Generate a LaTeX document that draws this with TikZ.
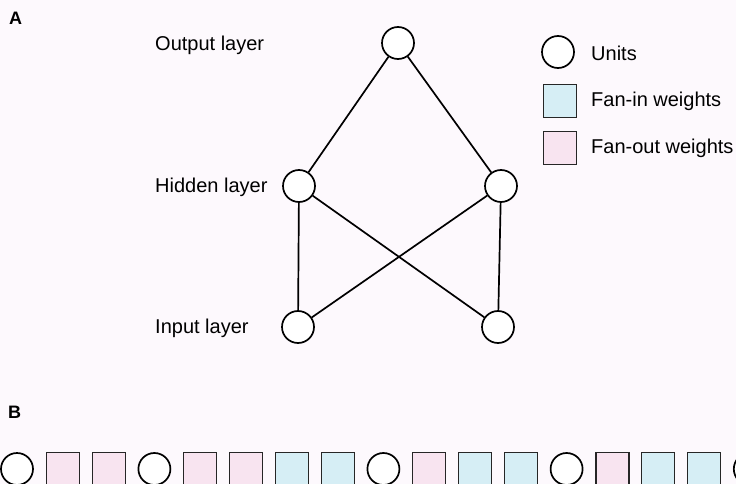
\documentclass[tikz,border=0pt]{standalone}
\usepackage{fontspec}
\setmainfont{Liberation Sans}
\definecolor{paper}{RGB}{253,249,253}
\definecolor{fanin}{RGB}{214,238,245}
\definecolor{fanout}{RGB}{248,228,240}
\tikzset{
  unit/.style={circle,draw=black,line width=1.7pt,fill=white,minimum size=32pt,inner sep=0pt},
  wbox/.style={rectangle,draw=black!85,line width=1.2pt,minimum size=33pt,inner sep=0pt},
  inw/.style={wbox,fill=fanin},
  outw/.style={wbox,fill=fanout},
  conn/.style={line width=1.7pt,draw=black},
  lbl/.style={anchor=west,inner sep=0pt,font=\fontsize{20}{24}\selectfont},
  panel/.style={anchor=west,inner sep=0pt,font=\fontsize{18}{22}\selectfont\bfseries}
}
\begin{document}
\begin{tikzpicture}[x=1pt,y=-1pt]
\fill[paper] (0,0) rectangle (736,484);
\useasboundingbox (0,0) rectangle (736,484);

% panel A: the network
\node[panel] (labA) at (9,18) {A};
\node[unit] (out) at (398,43) {};
\node[unit] (h1) at (299,186) {};
\node[unit] (h2) at (501,186) {};
\node[unit] (i1) at (298,327) {};
\node[unit] (i2) at (498,327) {};
\draw[conn] (out) -- (h1);
\draw[conn] (out) -- (h2);
\draw[conn] (h1) -- (i1);
\draw[conn] (h1) -- (i2);
\draw[conn] (h2) -- (i1);
\draw[conn] (h2) -- (i2);
\node[lbl] (tout) at (155,45) {Output layer};
\node[lbl] (thid) at (155,187) {Hidden layer};
\node[lbl] (tin) at (155,328) {Input layer};

% legend
\node[unit] (lu) at (558,52) {};
\node[inw] (li) at (560,101) {};
\node[outw] (lo) at (560,148) {};
\node[lbl] (tu) at (591,53) {Units};
\node[lbl] (ti) at (591,101) {Fan-in weights};
\node[lbl] (to) at (591,148) {Fan-out weights};

% panel B: flat layout of units and weights
\node[panel] (labB) at (8,412) {B};
\foreach \k/\s in {0/unit,1/outw,2/outw,3/unit,4/outw,5/outw,6/inw,7/inw,8/unit,9/outw,10/inw,11/inw,12/unit,13/outw,14/inw,15/inw,16/unit}{
  \node[\s] (b\k) at ({17+45.8*\k},469) {};
}
\end{tikzpicture}
\end{document}
